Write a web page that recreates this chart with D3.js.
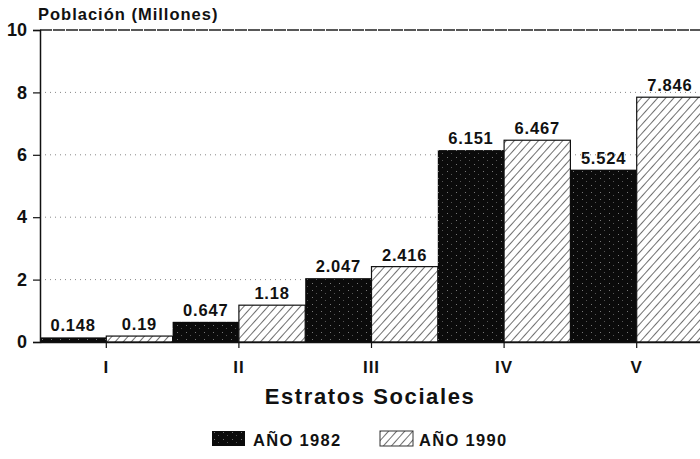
<!DOCTYPE html>
<html>
<head>
<meta charset="utf-8">
<script src="https://cdn.jsdelivr.net/npm/d3@7"></script>
<style>
  body { margin: 0; background: #fff; }
  text { font-family: "Liberation Sans", Arial, sans-serif; font-weight: bold; fill: #111; }
</style>
</head>
<body>
<div id="chart"></div>
<script>
// data
let estratos = ['I', 'II', 'III', 'IV', 'V'];
let series = ['AÑO 1982', 'AÑO 1990'];
let v1982 = [0.148, 0.647, 2.047, 6.151, 5.524];
let v1990 = [0.19, 1.18, 2.416, 6.467, 7.846];
let yTicks = [0, 2, 4, 6, 8, 10];
let valueLabels = [['0.148', '0.647', '2.047', '6.151', '5.524'], ['0.19', '1.18', '2.416', '6.467', '7.846']];

const W = 700, H = 459;
const margin = { top: 30, right: -3, bottom: 117, left: 40 };
let width = W - margin.left - margin.right;
let height = H - margin.top - margin.bottom;

let svg = d3.select('#chart').append('svg')
  .attr('width', W).attr('height', H);

let defs = svg.append('defs');
// hatch for 1990
let hatch = defs.append('pattern')
  .attr('id', 'hatch').attr('patternUnits', 'userSpaceOnUse')
  .attr('width', 6).attr('height', 6)
  .attr('patternTransform', 'rotate(42)');
hatch.append('rect').attr('width', 6).attr('height', 6).attr('fill', '#fff');
hatch.append('line').attr('x1', 0).attr('y1', 0).attr('x2', 0).attr('y2', 6)
  .attr('stroke', '#222').attr('stroke-width', 1.3);
// dark, slightly speckled fill for 1982
let dark = defs.append('pattern')
  .attr('id', 'dark').attr('patternUnits', 'userSpaceOnUse')
  .attr('width', 9).attr('height', 7);
dark.append('rect').attr('width', 9).attr('height', 7).attr('fill', '#0b0b0b');
dark.append('rect').attr('x', 2).attr('y', 1).attr('width', 1).attr('height', 1).attr('fill', '#777');
dark.append('rect').attr('x', 6).attr('y', 4).attr('width', 1).attr('height', 1).attr('fill', '#555');

let g = svg.append('g').attr('transform', `translate(${margin.left},${margin.top})`);

let x = d3.scaleBand().domain(estratos).range([0, width]).paddingInner(0).paddingOuter(0);
let xs = d3.scaleBand().domain(series).range([0, x.bandwidth()]);
let y = d3.scaleLinear().domain([0, 10]).range([height, 0]);

// gridlines
g.selectAll('.grid').data(yTicks.filter(d => d > 0)).join('line')
  .attr('x1', 0).attr('x2', width)
  .attr('y1', d => y(d)).attr('y2', d => y(d))
  .attr('stroke', d => d === 10 ? '#222' : '#888')
  .attr('stroke-width', d => d === 10 ? 1.3 : 1)
  .attr('stroke-dasharray', d => d === 10 ? '12,1' : '1,4');

// bars
let rows = estratos.map((e, i) => [
  { cat: e, s: series[0], v: v1982[i], lab: valueLabels[0][i] },
  { cat: e, s: series[1], v: v1990[i], lab: valueLabels[1][i] }
]).flat();

g.selectAll('.bar').data(rows).join('rect')
  .attr('x', d => x(d.cat) + xs(d.s))
  .attr('y', d => y(d.v))
  .attr('width', xs.bandwidth())
  .attr('height', d => y(0) - y(d.v))
  .attr('fill', d => d.s === series[0] ? 'url(#dark)' : 'url(#hatch)')
  .attr('stroke', d => d.s === series[0] ? 'none' : '#111')
  .attr('stroke-width', 1.2);

g.selectAll('.val').data(rows).join('text')
  .attr('x', d => x(d.cat) + xs(d.s) + xs.bandwidth() / 2)
  .attr('y', d => y(d.v) - 6)
  .attr('text-anchor', 'middle')
  .attr('font-size', 16.5).attr('letter-spacing', 0.8)
  .text(d => d.lab);

// y axis
let leftAxis = d3.axisLeft(y).tickValues(yTicks).tickSize(7).tickPadding(6);
let ya = g.append('g').call(leftAxis);
ya.select('.domain').attr('stroke', '#111').attr('stroke-width', 1.5);
ya.selectAll('.tick line').attr('stroke', '#111').attr('stroke-width', 1.2);
ya.selectAll('.tick text').attr('font-size', 18).attr('fill', '#111')
  .attr('font-family', '"Liberation Sans", Arial, sans-serif').attr('font-weight', 'bold');

// x axis
let bottomAxis = d3.axisBottom(x).tickSize(6).tickPadding(13).tickSizeOuter(0);
let xa = g.append('g').attr('transform', `translate(0,${height})`).call(bottomAxis);
xa.select('.domain').attr('stroke', '#111').attr('stroke-width', 1.5);
xa.selectAll('.tick line').attr('stroke', '#111').attr('stroke-width', 1.2);
xa.selectAll('.tick text').attr('font-size', 17).attr('fill', '#111').attr('letter-spacing', 1)
  .attr('font-family', '"Liberation Sans", Arial, sans-serif').attr('font-weight', 'bold');

// titles
svg.append('text').attr('x', 38).attr('y', 20)
  .attr('font-size', 16.5).attr('letter-spacing', 1)
  .text('Población (Millones)');
svg.append('text').attr('x', 370).attr('y', 404)
  .attr('text-anchor', 'middle').attr('font-size', 22).attr('letter-spacing', 1.6)
  .text('Estratos Sociales');

// legend
let legX = [212, 380];
let leg = svg.selectAll('.leg').data(series).join('g')
  .attr('transform', (d, i) => `translate(${legX[i]},431)`);
leg.append('rect').attr('width', 33).attr('height', 15)
  .attr('fill', (d, i) => i === 0 ? 'url(#dark)' : 'url(#hatch)')
  .attr('stroke', (d, i) => i === 0 ? 'none' : '#333').attr('stroke-width', 1);
leg.append('text').attr('x', (d, i) => i === 0 ? 41 : 39).attr('y', 15)
  .attr('font-size', 16.5).attr('letter-spacing', 1.3)
  .text(d => d);
</script>
</body>
</html>
